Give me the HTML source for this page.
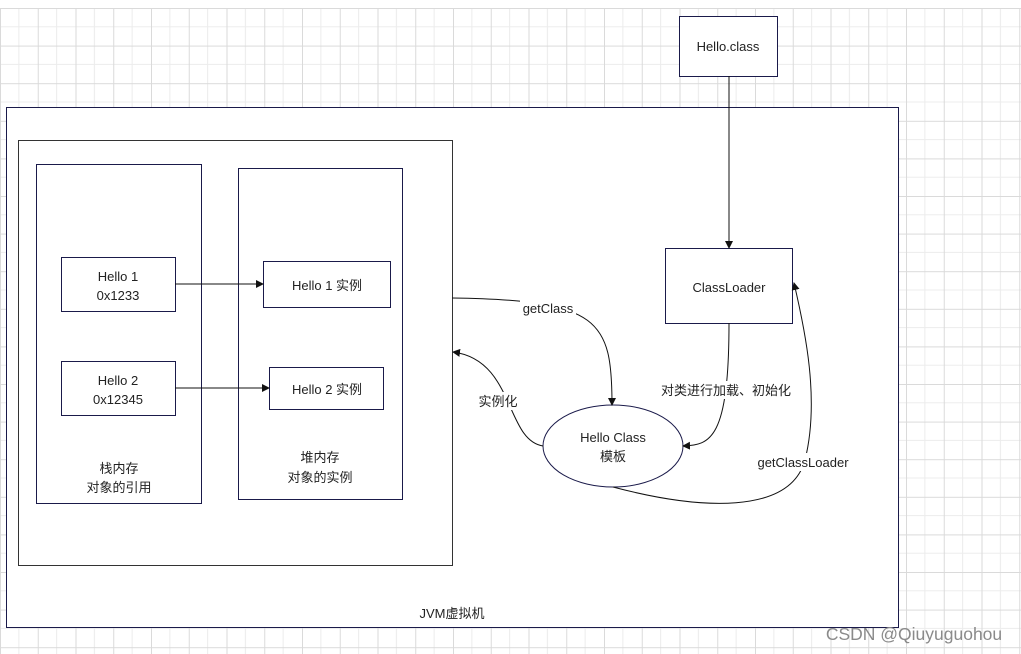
<!DOCTYPE html>
<html><head><meta charset="utf-8"><style>
body{margin:0;background:#fff}
svg{display:block}
text{font-family:"Liberation Sans","Noto Sans CJK SC",sans-serif;font-size:13px;fill:#222;text-anchor:middle}
</style></head><body>
<svg width="1021" height="654" viewBox="0 0 1021 654" xmlns="http://www.w3.org/2000/svg">
<defs>
<pattern id="g" x="0" y="8" width="37.75" height="37.6" patternUnits="userSpaceOnUse">
<path d="M18.9 0V37.6M0 18.8H37.75" stroke="#ececec" stroke-width="1" fill="none"/>
<path d="M0.5 0V37.6M0 0.5H37.75" stroke="#dadada" stroke-width="1" fill="none"/>
</pattern>
<marker id="a" markerWidth="8" markerHeight="8" refX="7" refY="4" orient="auto" markerUnits="userSpaceOnUse"><path d="M0 0L8 4L0 8z" fill="#111"/></marker>
</defs>
<rect x="0" y="8" width="1021" height="646" fill="url(#g)"/>
<rect x="6.5" y="107.5" width="892" height="520" fill="#fff" stroke="#1a1a4a"/>
<rect x="18.5" y="140.5" width="434" height="425" fill="#fff" stroke="#333"/>
<rect x="36.5" y="164.5" width="165" height="339" fill="none" stroke="#1a1a4a"/>
<rect x="238.5" y="168.5" width="164" height="331" fill="none" stroke="#1a1a4a"/>
<rect x="61.5" y="257.5" width="114" height="54" fill="#fff" stroke="#1a1a4a"/>
<rect x="61.5" y="361.5" width="114" height="54" fill="#fff" stroke="#1a1a4a"/>
<rect x="263.5" y="261.5" width="127" height="46" fill="#fff" stroke="#1a1a4a"/>
<rect x="269.5" y="367.5" width="114" height="42" fill="#fff" stroke="#1a1a4a"/>
<rect x="679.5" y="16.5" width="98" height="60" fill="#fff" stroke="#1a1a4a"/>
<rect x="665.5" y="248.5" width="127" height="75" fill="#fff" stroke="#1a1a4a"/>
<ellipse cx="613" cy="446" rx="70" ry="41" fill="#fff" stroke="#1a1a4a"/>
<g stroke="#111" fill="none" stroke-width="1">
<path d="M175 284H263" marker-end="url(#a)"/>
<path d="M175 388H269" marker-end="url(#a)"/>
<path d="M729 76V248" marker-end="url(#a)"/>
<path d="M452 298C600 300 612 320 612 405" marker-end="url(#a)"/>
<path d="M543 446C505 440 515 360 453 352" marker-end="url(#a)"/>
<path d="M729 323C729 440 710 445 683 446" marker-end="url(#a)"/>
<path d="M613 487C700 510 790 515 805 460C820 400 805 330 794 283" marker-end="url(#a)"/>
</g>
<rect x="520" y="299" width="56" height="18" fill="#fff"/>
<rect x="476" y="392" width="46" height="18" fill="#fff"/>
<rect x="658" y="381" width="136" height="18" fill="#fff"/>
<rect x="754" y="453" width="98" height="18" fill="#fff"/>
<text x="118" y="281">Hello 1</text><text x="118" y="300">0x1233</text>
<text x="118" y="385">Hello 2</text><text x="118" y="404">0x12345</text>
<text x="327" y="290">Hello 1 实例</text>
<text x="327" y="394">Hello 2  实例</text>
<text x="119" y="473">栈内存</text><text x="119" y="492">对象的引用</text>
<text x="320" y="462">堆内存</text><text x="320" y="482">对象的实例</text>
<text x="728" y="51">Hello.class</text>
<text x="729" y="292">ClassLoader</text>
<text x="613" y="442">Hello Class</text><text x="613" y="461">模板</text>
<text x="548" y="313">getClass</text>
<text x="498" y="406">实例化</text>
<text x="726" y="395">对类进行加载、初始化</text>
<text x="803" y="467">getClassLoader</text>
<text x="452" y="618">JVM虚拟机</text>
<text x="914" y="640" style="font-size:17.5px;fill:#8a8a8a">CSDN @Qiuyuguohou</text>
</svg>
</body></html>
